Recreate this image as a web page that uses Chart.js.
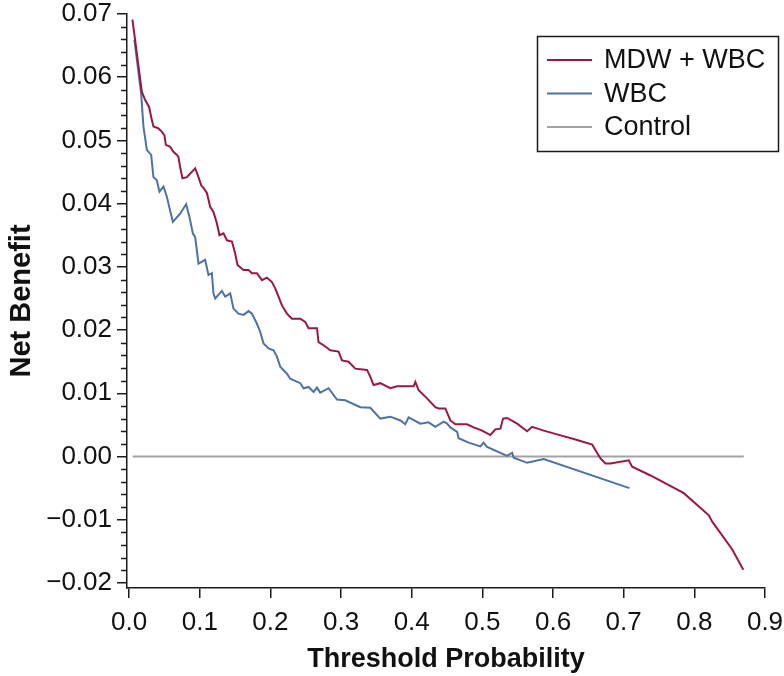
<!DOCTYPE html>
<html>
<head>
<meta charset="utf-8">
<title>Net Benefit</title>
<script src="https://cdn.jsdelivr.net/npm/chart.js@4.4.1/dist/chart.umd.min.js"></script>
<style>
    html, body { margin: 0; padding: 0; background: #fff; }
    #wrap { width: 784px; height: 676px; }
</style>
</head>
<body>
<div id="wrap"><canvas id="dcaChart" width="784" height="676"></canvas></div>
<script>
// Decision curve data
const seriesLabels = ['MDW + WBC', 'WBC', 'Control'];

const mdwWbcX = [0.0047, 0.0180, 0.0227, 0.0283, 0.0312, 0.0344, 0.0415, 0.0463, 0.0500, 0.0520,
    0.0581, 0.0627, 0.0676, 0.0698, 0.0722, 0.0755, 0.0817, 0.0935, 0.0982, 0.1020,
    0.1052, 0.1101, 0.1147, 0.1194, 0.1242, 0.1279, 0.1336, 0.1384, 0.1455, 0.1501,
    0.1534, 0.1619, 0.1690, 0.1738, 0.1809, 0.1880, 0.1950, 0.2021, 0.2068, 0.2115,
    0.2163, 0.2234, 0.2305, 0.2422, 0.2493, 0.2540, 0.2659, 0.2681, 0.2752, 0.2847,
    0.2965, 0.3013, 0.3106, 0.3201, 0.3367, 0.3414, 0.3460, 0.3555, 0.3697, 0.3792,
    0.4027, 0.4051, 0.4098, 0.4217, 0.4334, 0.4381, 0.4476, 0.4547, 0.4618, 0.4783,
    0.4877, 0.4996, 0.5113, 0.5184, 0.5255, 0.5293, 0.5350, 0.5492, 0.5633, 0.5704,
    0.5868, 0.6058, 0.6341, 0.6554, 0.6601, 0.6671, 0.6742, 0.6813, 0.7072, 0.7120,
    0.7380, 0.7851, 0.8205, 0.8253, 0.8537, 0.8693];
const mdwWbcY = [0.0691, 0.0577, 0.0564, 0.0553, 0.0537, 0.0522, 0.0519, 0.0514, 0.0508, 0.0493,
    0.0490, 0.0482, 0.0477, 0.0474, 0.0458, 0.0440, 0.0442, 0.0456, 0.0442, 0.0429,
    0.0425, 0.0417, 0.0395, 0.0387, 0.0369, 0.0350, 0.0353, 0.0342, 0.0340, 0.0321,
    0.0303, 0.0295, 0.0295, 0.0290, 0.0290, 0.0279, 0.0283, 0.0276, 0.0266, 0.0253,
    0.0239, 0.0226, 0.0218, 0.0218, 0.0213, 0.0203, 0.0203, 0.0181, 0.0176, 0.0168,
    0.0166, 0.0152, 0.0150, 0.0139, 0.0137, 0.0126, 0.0113, 0.0116, 0.0108, 0.0111,
    0.0111, 0.0118, 0.0105, 0.0092, 0.0078, 0.0076, 0.0076, 0.0057, 0.0051, 0.0051,
    0.0046, 0.0041, 0.0034, 0.0043, 0.0044, 0.0060, 0.0061, 0.0052, 0.0040, 0.0047,
    0.0041, 0.0035, 0.0026, 0.0019, 0.0010, -0.0003, -0.0011, -0.0011, -0.0006, -0.0016,
    -0.0030, -0.0058, -0.0093, -0.0103, -0.0147, -0.0179];

const wbcX = [0.0075, 0.0170, 0.0203, 0.0251, 0.0312, 0.0344, 0.0392, 0.0429, 0.0486, 0.0534,
    0.0557, 0.0619, 0.0722, 0.0807, 0.0854, 0.0902, 0.0935, 0.0982, 0.1076, 0.1123,
    0.1171, 0.1194, 0.1218, 0.1313, 0.1360, 0.1431, 0.1477, 0.1548, 0.1619, 0.1690,
    0.1738, 0.1809, 0.1856, 0.1902, 0.1973, 0.2044, 0.2092, 0.2139, 0.2234, 0.2280,
    0.2422, 0.2469, 0.2540, 0.2611, 0.2659, 0.2705, 0.2823, 0.2942, 0.3059, 0.3272,
    0.3414, 0.3555, 0.3697, 0.3839, 0.3909, 0.3956, 0.4122, 0.4239, 0.4334, 0.4452,
    0.4500, 0.4547, 0.4642, 0.4664, 0.4806, 0.4972, 0.5018, 0.5067, 0.5350, 0.5421,
    0.5443, 0.5633, 0.5868, 0.7082];
const wbcY = [0.0659, 0.0574, 0.0522, 0.0485, 0.0477, 0.0442, 0.0437, 0.0419, 0.0427, 0.0411,
    0.0400, 0.0371, 0.0384, 0.0399, 0.0379, 0.0353, 0.0347, 0.0305, 0.0311, 0.0287,
    0.0290, 0.0258, 0.0250, 0.0262, 0.0253, 0.0258, 0.0234, 0.0226, 0.0224, 0.0230,
    0.0226, 0.0210, 0.0197, 0.0179, 0.0171, 0.0168, 0.0158, 0.0142, 0.0131, 0.0123,
    0.0116, 0.0108, 0.0110, 0.0102, 0.0109, 0.0101, 0.0108, 0.0090, 0.0089, 0.0078,
    0.0077, 0.0060, 0.0063, 0.0057, 0.0051, 0.0062, 0.0052, 0.0054, 0.0047, 0.0055,
    0.0052, 0.0046, 0.0039, 0.0029, 0.0022, 0.0016, 0.0022, 0.0015, 0.0001, 0.0006,
    -0.0002, -0.0010, -0.0004, -0.0050];

const controlX = [0.005, 0.87];
const controlY = [0, 0];

const xTicks = [0, 0.1, 0.2, 0.3, 0.4, 0.5, 0.6, 0.7, 0.8, 0.9];
const yTicks = [-0.02, -0.01, 0, 0.01, 0.02, 0.03, 0.04, 0.05, 0.06, 0.07];
const yMinorStep = 0.002;

document.addEventListener('DOMContentLoaded', function() {
    const FONT = "'Liberation Sans', Arial, Helvetica, sans-serif";
    const AXIS_COLOR = '#1a1a1a';
    const colors = ['#9b1742', '#4d72a6', '#a3a3a3'];

    function toPoints(xs, ys) {
        return xs.map((x, i) => ({ x: x, y: ys[i] }));
    }

    function formatY(v) {
        const s = Math.abs(v).toFixed(2);
        return v < -1e-9 ? '\u2212' + s : s;
    }

    // Minor ticks on the y axis, drawn through the y scale
    const minorTicks = {
        id: 'minorTicks',
        afterDraw(chart) {
            const y = chart.scales.y;
            const ctx = chart.ctx;
            const left = chart.chartArea.left;
            ctx.save();
            ctx.strokeStyle = AXIS_COLOR;
            ctx.lineWidth = 1.5;
            const n = Math.round((yTicks[yTicks.length - 1] - yTicks[0]) / yMinorStep);
            for (let i = 0; i <= n; i++) {
                if (i % 5 === 0) continue;
                const py = Math.round(y.getPixelForValue(yTicks[0] + i * yMinorStep)) + 0.5;
                ctx.beginPath();
                ctx.moveTo(left - 6, py);
                ctx.lineTo(left, py);
                ctx.stroke();
            }
            ctx.restore();
        }
    };

    // Boxed legend in the upper right corner
    const boxLegend = {
        id: 'boxLegend',
        afterDraw(chart) {
            const ctx = chart.ctx;
            const bx = 537.5, by = 36.5, bw = 241, bh = 115;
            ctx.save();
            ctx.fillStyle = '#fff';
            ctx.fillRect(bx, by, bw, bh);
            ctx.strokeStyle = AXIS_COLOR;
            ctx.lineWidth = 1.5;
            ctx.strokeRect(bx, by, bw, bh);
            ctx.font = '27px ' + FONT;
            ctx.textBaseline = 'middle';
            chart.data.datasets.forEach(function(ds, i) {
                const rowY = 60 + i * 33.5;
                ctx.strokeStyle = ds.borderColor;
                ctx.lineWidth = 2;
                ctx.beginPath();
                ctx.moveTo(547, rowY);
                ctx.lineTo(592, rowY);
                ctx.stroke();
                ctx.fillStyle = '#111';
                ctx.fillText(ds.label, 604, rowY + 1);
            });
            ctx.restore();
        }
    };

    const ctx = document.getElementById('dcaChart').getContext('2d');

    new Chart(ctx, {
        type: 'line',
        data: {
            datasets: [
                { label: seriesLabels[0], data: toPoints(mdwWbcX, mdwWbcY), borderColor: colors[0] },
                { label: seriesLabels[1], data: toPoints(wbcX, wbcY), borderColor: colors[1] },
                { label: seriesLabels[2], data: toPoints(controlX, controlY), borderColor: colors[2] }
            ]
        },
        options: {
            responsive: false,
            animation: false,
            layout: { padding: { top: 14, right: 19, left: 0, bottom: 0 } },
            elements: {
                line: { borderWidth: 2, tension: 0, fill: false },
                point: { radius: 0 }
            },
            plugins: {
                legend: { display: false },
                tooltip: { enabled: false }
            },
            scales: {
                x: {
                    type: 'linear',
                    min: -0.003,
                    max: 0.9,
                    afterBuildTicks: function(axis) {
                        axis.ticks = xTicks.map(v => ({ value: v }));
                    },
                    afterFit: function(axis) {
                        axis.height = 88;
                        axis.paddingLeft = 0;
                        axis.paddingRight = 0;
                    },
                    grid: { drawOnChartArea: false, tickLength: 10, color: AXIS_COLOR, lineWidth: 1.5 },
                    border: { display: true, color: AXIS_COLOR, width: 1.5 },
                    ticks: {
                        color: '#111',
                        padding: 9,
                        maxRotation: 0,
                        font: { family: FONT, size: 26 },
                        callback: v => v.toFixed(1)
                    },
                    title: {
                        display: true,
                        text: 'Threshold Probability',
                        color: '#111',
                        padding: { top: 5, bottom: 0 },
                        font: { family: FONT, size: 27, weight: 'bold' }
                    }
                },
                y: {
                    min: -0.0208,
                    max: 0.07,
                    afterBuildTicks: function(axis) {
                        axis.ticks = yTicks.map(v => ({ value: v }));
                    },
                    afterFit: function(axis) {
                        axis.width = 127;
                        axis.paddingTop = 0;
                        axis.paddingBottom = 0;
                    },
                    grid: { drawOnChartArea: false, tickLength: 10, color: AXIS_COLOR, lineWidth: 1.5 },
                    border: { display: true, color: AXIS_COLOR, width: 1.5 },
                    ticks: {
                        color: '#111',
                        padding: 5,
                        font: { family: FONT, size: 26 },
                        callback: v => formatY(v)
                    },
                    title: {
                        display: true,
                        text: 'Net Benefit',
                        color: '#111',
                        padding: { top: 5, bottom: 0 },
                        font: { family: FONT, size: 29, weight: 'bold' }
                    }
                }
            }
        },
        plugins: [minorTicks, boxLegend]
    });
});
</script>
</body>
</html>
